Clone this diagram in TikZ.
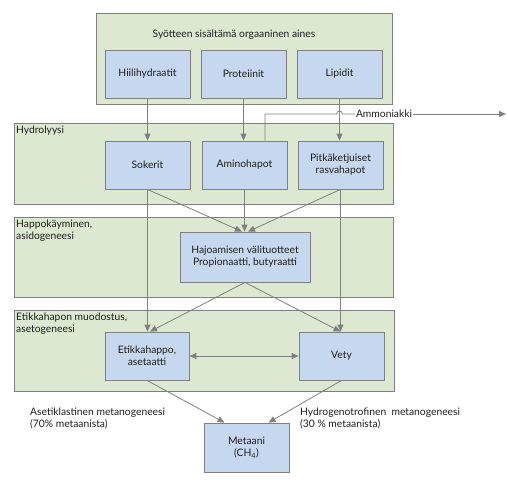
\documentclass[tikz,border=0pt]{standalone}
\usepackage{fontspec}
\setmainfont{Lato}
\usepackage{tikz}
\usetikzlibrary{arrows.meta}

\definecolor{panelgreen}{RGB}{220,232,207}
\definecolor{boxblue}{RGB}{197,216,239}
\definecolor{linegray}{RGB}{128,128,128}
\definecolor{textgray}{RGB}{30,30,30}

\begin{document}
\begin{tikzpicture}[x=1pt, y=-1pt, font=\fontsize{10.3}{12}\selectfont, text=textgray,
	panel/.style={draw=linegray, fill=panelgreen, line width=0.8pt, inner sep=0pt},
	box/.style={draw=linegray, fill=boxblue, line width=0.8pt, minimum width=85pt, minimum height=48pt, align=center, inner sep=1pt},
	tag/.style={anchor=north west, align=left, inner sep=1pt},
	flow/.style={draw=linegray, line width=0.8pt, -{Triangle[length=7pt,width=6pt]}}]
	\useasboundingbox (0,0) rectangle (508,480);
	
	% panels
	\node[panel, minimum width=296pt, minimum height=91pt] (syote) at (244,58.5) {};
	\node[panel, minimum width=379pt, minimum height=81pt] (hydro) at (203.5,163.5) {};
	\node[panel, minimum width=379pt, minimum height=80pt] (happo) at (203.5,257) {};
	\node[panel, minimum width=380pt, minimum height=81pt] (aseto) at (204,350.5) {};
	
	\node (st) at (234,35) {Syötteen sisältämä orgaaninen aines};
	\node[tag] (ht) at (15,125) {Hydrolyysi};
	\node[tag] (at) at (15,219) {Happokäyminen,\\asidogeneesi};
	\node[tag] (et) at (15,312) {Etikkahapon muodostus,\\asetogeneesi};
	
	% boxes
	\node[box] (hiili) at (147.5,74) {Hiilihydraatit};
	\node[box] (prot) at (243.5,74) {Proteiinit};
	\node[box] (lip) at (339.5,74) {Lipidit};
	\node[box] (sok) at (147.5,165) {Sokerit};
	\node[box] (amino) at (244.5,165) {Aminohapot};
	\node[box] (pitka) at (340.5,165) {Pitkäketjuiset\\rasvahapot};
	\node[box, minimum width=130pt, minimum height=50pt] (hajo) at (245,257) {Hajoamisen välituotteet\\Propionaatti, butyraatti};
	\node[box, minimum width=84pt] (etik) at (147,356) {Etikkahappo,\\asetaatti};
	\node[box] (vety) at (341.5,356) {Vety};
	\node[box, minimum height=49pt] (metaani) at (246.5,447.5) {Metaani\\(CH\textsubscript{4})};
	
	% texts
	\node[anchor=west, align=left, inner sep=0pt] (aset) at (30,418) {Asetiklastinen metanogeneesi\\(70\% metaanista)};
	\node[anchor=west, align=left, inner sep=0pt] (hydg) at (300,418) {Hydrogenotrofinen\ \ metanogeneesi\\(30 \% metaanista)};
	\node[inner sep=1pt] (amm) at (384,114) {Ammoniakki};
	\coordinate (ulos) at (506,114);
	
	% arrows
	\draw[flow] (hiili.south) -- (hiili.south |- sok.north);
	\draw[flow] (prot.south) -- (prot.south |- amino.north);
	\draw[flow] (lip.south) -- (lip.south |- pitka.north);
	\draw[flow] (sok.south) -- ([xshift=-3pt]hajo.north);
	\draw[flow] (amino.south) -- (amino.south |- hajo.north);
	\draw[flow] (pitka.south) -- ([xshift=3pt]hajo.north);
	\draw[flow] (sok.south) -- (sok.south |- etik.north);
	\draw[flow] (pitka.south) -- (pitka.south |- vety.north);
	\draw[flow] (hajo.south) -- ([xshift=3pt]etik.north);
	\draw[flow] (hajo.south) -- ([xshift=-1pt]vety.north);
	\draw[flow, {Triangle[length=7pt,width=6pt]}-{Triangle[length=7pt,width=6pt]}] (etik.east) -- (vety.west);
	\draw[flow] (etik.south) -- ([xshift=-22pt]metaani.north);
	\draw[flow] (vety.south) -- ([xshift=22pt]metaani.north);
	
	% ammonia line
	\draw[linegray, line width=0.8pt] ([xshift=20.5pt]amino.north) |- (336.5,114) arc[start angle=180, end angle=0, radius=3pt] -- (amm.west);
	\draw[flow] (amm.east) -- (ulos);
\end{tikzpicture}
\end{document}
